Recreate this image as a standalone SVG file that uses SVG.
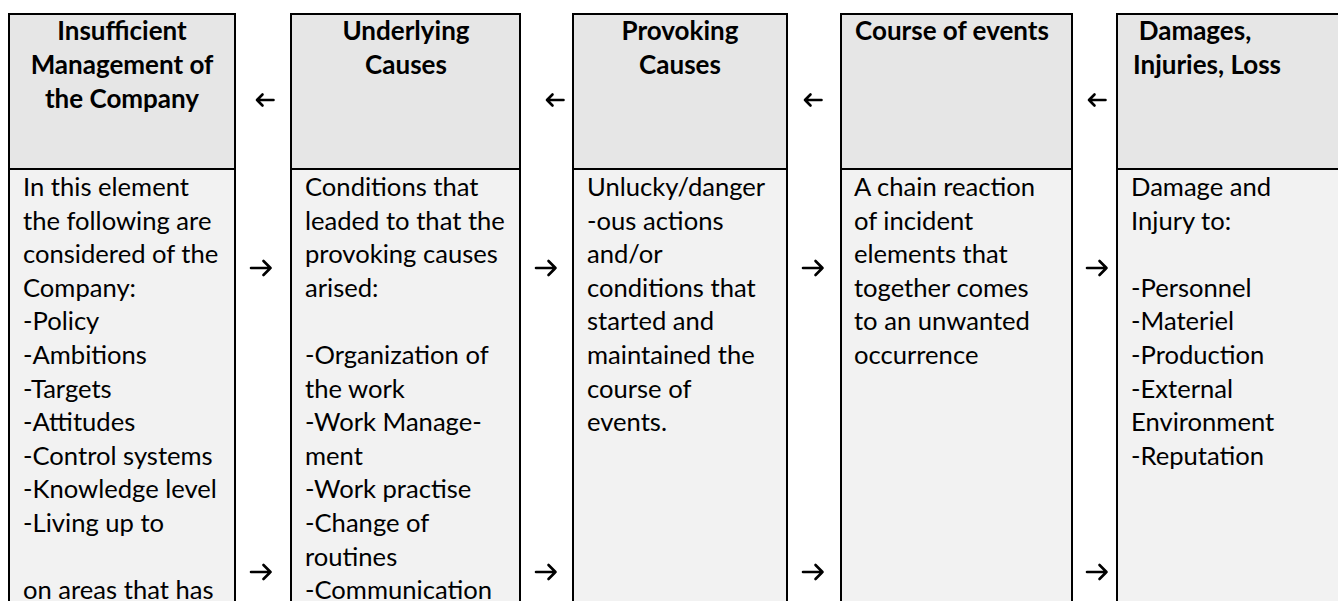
<svg xmlns="http://www.w3.org/2000/svg" width="1338" height="601" viewBox="0 0 1338 601">
  <style>
    .head { fill: #e6e6e6; stroke: #000; stroke-width: 2; }
    .body { fill: #f2f2f2; stroke: #000; stroke-width: 2; }
    .title { font-family: Lato, "Open Sans", "Liberation Sans", sans-serif; font-weight: bold; font-size: 26px; fill: #000; text-anchor: middle; }
    .txt { font-family: Lato, "Open Sans", "Liberation Sans", sans-serif; font-size: 25.6px; fill: #000; }
    .arrow { fill: none; stroke: #000; stroke-width: 2.6; stroke-linecap: round; stroke-linejoin: round; }
  </style>
  <defs>
    <!-- arrow glyphs drawn around a local origin (centre) -->
    <path id="arrow-left" d="M-8,0 H8.5 M-8,0 L-2.5,-5.5 M-8,0 L-2.5,5.5"/>
    <path id="arrow-right" d="M-10,0 H9.5 M9.5,0 L2.5,-7 M9.5,0 L2.5,7"/>
  </defs>
  <rect width="1338" height="601" fill="#fff"/>

  <!-- column 1 -->
  <g id="insufficient-management">
    <rect class="head" x="9" y="14" width="226" height="155"/>
    <rect class="body" x="9" y="169" width="226" height="440"/>
    <text class="title" x="122" y="40">Insufficient</text>
    <text class="title" x="122" y="74">Management of</text>
    <text class="title" x="122" y="108">the Company</text>
    <text class="txt" x="23" y="196">
      <tspan x="23" dy="0">In this element</tspan>
      <tspan x="23" dy="33.6">the following are</tspan>
      <tspan x="23" dy="33.6">considered of the</tspan>
      <tspan x="23" dy="33.6">Company:</tspan>
      <tspan x="23" dy="33.6">-Policy</tspan>
      <tspan x="23" dy="33.6">-Ambitions</tspan>
      <tspan x="23" dy="33.6">-Targets</tspan>
      <tspan x="23" dy="33.6">-Attitudes</tspan>
      <tspan x="23" dy="33.6">-Control systems</tspan>
      <tspan x="23" dy="33.6">-Knowledge level</tspan>
      <tspan x="23" dy="33.6">-Living up to</tspan>
      <tspan x="23" dy="67.2">on areas that has</tspan>
    </text>
  </g>

  <!-- column 2 -->
  <g id="underlying-causes">
    <rect class="head" x="291" y="14" width="229" height="155"/>
    <rect class="body" x="291" y="169" width="229" height="440"/>
    <text class="title" x="406" y="40">Underlying</text>
    <text class="title" x="406" y="74">Causes</text>
    <text class="txt" x="305" y="196">
      <tspan x="305" dy="0">Conditions that</tspan>
      <tspan x="305" dy="33.6">leaded to that the</tspan>
      <tspan x="305" dy="33.6">provoking causes</tspan>
      <tspan x="305" dy="33.6">arised:</tspan>
      <tspan x="305" dy="67.2">-Organization of</tspan>
      <tspan x="305" dy="33.6">the work</tspan>
      <tspan x="305" dy="33.6">-Work Manage-</tspan>
      <tspan x="305" dy="33.6">ment</tspan>
      <tspan x="305" dy="33.6">-Work practise</tspan>
      <tspan x="305" dy="33.6">-Change of</tspan>
      <tspan x="305" dy="33.6">routines</tspan>
      <tspan x="305" dy="33.6">-Communication</tspan>
    </text>
  </g>

  <!-- column 3 -->
  <g id="provoking-causes">
    <rect class="head" x="573" y="14" width="214" height="155"/>
    <rect class="body" x="573" y="169" width="214" height="440"/>
    <text class="title" x="680" y="40">Provoking</text>
    <text class="title" x="680" y="74">Causes</text>
    <text class="txt" x="587" y="196">
      <tspan x="587" dy="0">Unlucky/danger</tspan>
      <tspan x="587" dy="33.6">-ous actions</tspan>
      <tspan x="587" dy="33.6">and/or</tspan>
      <tspan x="587" dy="33.6">conditions that</tspan>
      <tspan x="587" dy="33.6">started and</tspan>
      <tspan x="587" dy="33.6">maintained the</tspan>
      <tspan x="587" dy="33.6">course of</tspan>
      <tspan x="587" dy="33.6">events.</tspan>
    </text>
  </g>

  <!-- column 4 -->
  <g id="course-of-events">
    <rect class="head" x="841" y="14" width="231" height="155"/>
    <rect class="body" x="841" y="169" width="231" height="440"/>
    <text class="title" x="952" y="40">Course of events</text>
    <text class="txt" x="854" y="196">
      <tspan x="854" dy="0">A chain reaction</tspan>
      <tspan x="854" dy="33.6">of incident</tspan>
      <tspan x="854" dy="33.6">elements that</tspan>
      <tspan x="854" dy="33.6">together comes</tspan>
      <tspan x="854" dy="33.6">to an unwanted</tspan>
      <tspan x="854" dy="33.6">occurrence</tspan>
    </text>
  </g>

  <!-- column 5 -->
  <g id="damages-injuries-loss">
    <rect class="head" x="1117" y="14" width="240" height="155"/>
    <rect class="body" x="1117" y="169" width="240" height="440"/>
    <text class="title" x="1195" y="40">Damages,</text>
    <text class="title" x="1207" y="74">Injuries, Loss</text>
    <text class="txt" x="1131" y="196">
      <tspan x="1131" dy="0">Damage and</tspan>
      <tspan x="1131" dy="33.6">Injury to:</tspan>
      <tspan x="1131" dy="67.2">-Personnel</tspan>
      <tspan x="1131" dy="33.6">-Materiel</tspan>
      <tspan x="1131" dy="33.6">-Production</tspan>
      <tspan x="1131" dy="33.6">-External</tspan>
      <tspan x="1131" dy="33.6">Environment</tspan>
      <tspan x="1131" dy="33.6">-Reputation</tspan>
    </text>
  </g>

  <!-- connectors between the columns -->
  <g id="connectors" class="arrow">
    <use href="#arrow-left" x="265" y="100"/>
    <use href="#arrow-right" x="261" y="268"/>
    <use href="#arrow-right" x="261" y="572"/>

    <use href="#arrow-left" x="555" y="100"/>
    <use href="#arrow-right" x="546" y="268"/>
    <use href="#arrow-right" x="546" y="572"/>

    <use href="#arrow-left" x="813" y="100"/>
    <use href="#arrow-right" x="813" y="268"/>
    <use href="#arrow-right" x="813" y="572"/>

    <use href="#arrow-left" x="1097" y="100"/>
    <use href="#arrow-right" x="1097" y="268"/>
    <use href="#arrow-right" x="1097" y="572"/>
  </g>
</svg>
